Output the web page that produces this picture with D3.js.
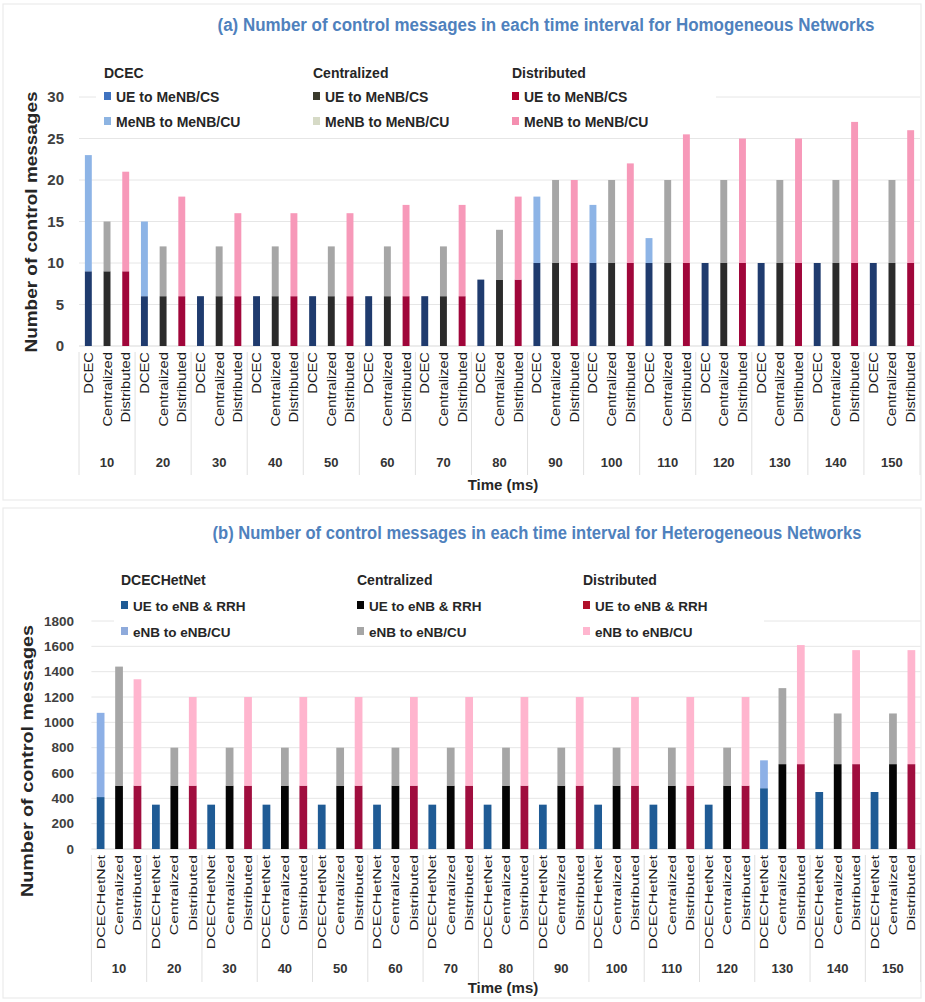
<!DOCTYPE html>
<html>
<head>
<meta charset="utf-8">
<script src="https://cdn.jsdelivr.net/npm/d3@7"></script>
<style>
  body { margin: 0; background: #fff; }
  svg { display: block; }
  text { font-family: "Liberation Sans", Arial, sans-serif; }
</style>
</head>
<body>
<svg id="chart" width="925" height="1002"></svg>
<script>
// ---- time intervals and schemes ----
const times = ["10","20","30","40","50","60","70","80","90","100","110","120","130","140","150"];
const schemesHom = ["DCEC","Centralized","Distributed"];
const schemesHet = ["DCECHetNet","Centralized","Distributed"];

// ---- (a) homogeneous networks: lower segment = UE to MeNB/CS, upper = MeNB to MeNB/CU ----
const homDcecUE   = [9,6,6,6,6,6,6,8,10,10,10,10,10,10,10];
const homDcecMeNB = [14,9,0,0,0,0,0,0,8,7,3,0,0,0,0];
const homCentUE   = [9,6,6,6,6,6,6,8,10,10,10,10,10,10,10];
const homCentMeNB = [6,6,6,6,6,6,6,6,10,10,10,10,10,10,10];
const homDistUE   = [9,6,6,6,6,6,6,8,10,10,10,10,10,10,10];
const homDistMeNB = [12,12,10,10,10,11,11,10,10,12,15.5,15,15,17,16];
const homTicks = [0,5,10,15,20,25,30];
const homLegendRows = ["UE to MeNB/CS","MeNB to MeNB/CU"];

// ---- (b) heterogeneous networks: lower = UE to eNB & RRH, upper = eNB to eNB/CU ----
const hetDcecUE  = [410,350,350,350,350,350,350,350,350,350,350,350,480,450,450];
const hetDcecENB = [665,0,0,0,0,0,0,0,0,0,0,0,220,0,0];
const hetCentUE  = [500,500,500,500,500,500,500,500,500,500,500,500,670,670,670];
const hetCentENB = [940,300,300,300,300,300,300,300,300,300,300,300,600,400,400];
const hetDistUE  = [500,500,500,500,500,500,500,500,500,500,500,500,670,670,670];
const hetDistENB = [840,700,700,700,700,700,700,700,700,700,700,700,940,900,900];
const hetTicks = [0,200,400,600,800,1000,1200,1400,1600,1800];
const hetLegendRows = ["UE to eNB & RRH","eNB to eNB/CU"];

const svg = d3.select("#chart");

function drawPanel(cfg) {
  const g = svg.append("g");

  // panel frame
  g.append("rect")
    .attr("x", cfg.frame[0]).attr("y", cfg.frame[1])
    .attr("width", cfg.frame[2]).attr("height", cfg.frame[3])
    .attr("fill", "#fff").attr("stroke", "#ebebeb").attr("stroke-width", 1.2);

  // title
  g.append("text")
    .attr("x", cfg.titleX).attr("y", cfg.titleY)
    .attr("text-anchor", "middle")
    .attr("font-size", 17.5).attr("font-weight", "bold")
    .attr("fill", "#4f81bd")
    .attr("textLength", cfg.titleLen).attr("lengthAdjust", "spacingAndGlyphs")
    .text(cfg.title);

  const x = d3.scaleBand().domain(times).range([cfg.x0, cfg.x1]).paddingInner(0).paddingOuter(0);
  const xi = d3.scaleBand().domain(cfg.schemes).range([0, x.bandwidth()])
    .paddingInner(cfg.barPad).paddingOuter(cfg.barPad / 2);
  const y = d3.scaleLinear().domain([0, cfg.yMax]).range([cfg.yBottom, cfg.yTop]);

  // gridlines
  g.append("g").selectAll("line").data(cfg.ticks.filter(t => t > 0)).join("line")
    .attr("x1", cfg.x0).attr("x2", cfg.x1)
    .attr("y1", d => y(d)).attr("y2", d => y(d))
    .attr("stroke", "#e6e6e6").attr("stroke-width", 1);

  // legend backdrop (sits over the gridlines)
  g.append("rect")
    .attr("x", cfg.legendBox[0]).attr("y", cfg.legendBox[1])
    .attr("width", cfg.legendBox[2]).attr("height", cfg.legendBox[3])
    .attr("fill", "#fff");

  // baseline
  g.append("line")
    .attr("x1", cfg.x0).attr("x2", cfg.x1)
    .attr("y1", y(0)).attr("y2", y(0))
    .attr("stroke", "#d9d9d9");

  // stacked bars
  const rows = [];
  times.forEach((t, i) => {
    cfg.schemes.forEach((s, k) => {
      const lo = cfg.series[k][0][i], hi = cfg.series[k][1][i];
      rows.push({ t, s, k, y0: 0, y1: lo, part: 0 });
      if (hi > 0) rows.push({ t, s, k, y0: lo, y1: lo + hi, part: 1 });
    });
  });
  g.append("g").selectAll("rect").data(rows).join("rect")
    .attr("x", d => x(d.t) + xi(d.s))
    .attr("width", xi.bandwidth())
    .attr("y", d => y(d.y1))
    .attr("height", d => y(d.y0) - y(d.y1))
    .attr("fill", d => cfg.barColors[d.k][d.part]);

  // y tick labels
  g.append("g").selectAll("text").data(cfg.ticks).join("text")
    .attr("x", cfg.tickX).attr("y", d => y(d))
    .attr("dy", "0.35em")
    .attr("text-anchor", "end")
    .attr("font-size", cfg.tickSize).attr("font-weight", "bold")
    .attr("fill", "#404040")
    .text(d => d);

  // y axis title
  g.append("text")
    .attr("transform", `translate(${cfg.yTitleX},${cfg.yTitleY}) rotate(-90)`)
    .attr("text-anchor", "middle")
    .attr("font-size", cfg.yTitleSize).attr("font-weight", "bold")
    .attr("fill", "#262626")
    .attr("textLength", cfg.yTitleLen).attr("lengthAdjust", "spacingAndGlyphs")
    .text("Number of control messages");

  // rotated scheme labels under each bar
  const labs = [];
  times.forEach(t => cfg.schemes.forEach(s => labs.push({ t, s })));
  g.append("g").selectAll("text").data(labs).join("text")
    .attr("transform", d => {
      const cx = x(d.t) + xi(d.s) + xi.bandwidth() / 2 + cfg.catShift;
      return `translate(${cx},${cfg.catTop}) rotate(-90) scale(${cfg.catStretch},1)`;
    })
    .attr("text-anchor", "end")
    .attr("font-size", cfg.catSize)
    .attr("fill", "#1a1a1a")
    .text(d => d.s);

  // group separators
  const seps = times.map(t => x(t)).concat([cfg.x1]);
  g.append("g").selectAll("line").data(seps).join("line")
    .attr("x1", d => d).attr("x2", d => d)
    .attr("y1", cfg.catTop).attr("y2", cfg.sepBottom)
    .attr("stroke", "#e0e0e0");

  // time labels
  g.append("g").selectAll("text").data(times).join("text")
    .attr("x", d => x(d) + x.bandwidth() / 2)
    .attr("y", cfg.timeY)
    .attr("text-anchor", "middle")
    .attr("font-size", 13).attr("font-weight", "bold")
    .attr("fill", "#333")
    .text(d => d);

  g.append("text")
    .attr("x", 503).attr("y", cfg.axisTitleY)
    .attr("text-anchor", "middle")
    .attr("font-size", 15).attr("font-weight", "bold")
    .attr("fill", "#262626")
    .text("Time (ms)");

  // legend
  cfg.legendCols.forEach((cx, k) => {
    g.append("text")
      .attr("x", cx).attr("y", cfg.legendY[0])
      .attr("font-size", 14).attr("font-weight", "bold").attr("fill", "#262626")
      .text(cfg.legendHeads[k]);
    cfg.legendRows.forEach((label, r) => {
      g.append("rect")
        .attr("x", cx).attr("y", cfg.legendY[r + 1] - 10)
        .attr("width", 7).attr("height", 8)
        .attr("fill", cfg.legendColors[k][r]);
      g.append("text")
        .attr("x", cx + 12).attr("y", cfg.legendY[r + 1])
        .attr("font-size", cfg.legendSize).attr("font-weight", "bold").attr("fill", "#262626")
        .text(label);
    });
  });
}

drawPanel({
  frame: [3, 4, 918, 496],
  title: "(a) Number of control messages in each time interval for Homogeneous Networks",
  titleX: 546, titleY: 31, titleLen: 657,
  schemes: schemesHom,
  series: [[homDcecUE, homDcecMeNB], [homCentUE, homCentMeNB], [homDistUE, homDistMeNB]],
  barColors: [["#1f3b6e", "#8db4e6"], ["#2b2b2b", "#a6a6a6"], ["#a0063a", "#f799b9"]],
  legendColors: [["#3f73c0", "#8db4e2"], ["#3a3a2c", "#d6dac6"], ["#b0022f", "#f48fb0"]],
  legendHeads: schemesHom,
  legendRows: homLegendRows,
  legendCols: [104, 313, 512],
  legendY: [78, 102, 127],
  legendSize: 14,
  legendBox: [96, 58, 620, 75],
  x0: 79, x1: 920, barPad: 0.63,
  yMax: 30, yBottom: 346, yTop: 97, ticks: homTicks,
  tickX: 64, tickSize: 15,
  yTitleX: 37, yTitleY: 222, yTitleSize: 16, yTitleLen: 261,
  catTop: 352, catShift: 4.5, catSize: 12.5, catStretch: 1.18,
  sepBottom: 475, timeY: 467, axisTitleY: 490
});

drawPanel({
  frame: [3, 508, 918, 490],
  title: "(b) Number of control messages in each time interval for Heterogeneous Networks",
  titleX: 537, titleY: 539, titleLen: 649,
  schemes: schemesHet,
  series: [[hetDcecUE, hetDcecENB], [hetCentUE, hetCentENB], [hetDistUE, hetDistENB]],
  barColors: [["#1f5b95", "#8db0e6"], ["#050505", "#a6a6a6"], ["#a00d3e", "#ffb5ce"]],
  legendColors: [["#1f5b95", "#8eaadb"], ["#050505", "#a6a6a6"], ["#b00f2a", "#ffb6cf"]],
  legendHeads: schemesHet,
  legendRows: hetLegendRows,
  legendCols: [121, 357, 583],
  legendY: [585, 611, 637],
  legendSize: 13.5,
  legendBox: [114, 565, 650, 77],
  x0: 91.4, x1: 920.6, barPad: 0.58,
  yMax: 1800, yBottom: 849, yTop: 621, ticks: hetTicks,
  tickX: 74, tickSize: 13.5,
  yTitleX: 33, yTitleY: 761, yTitleSize: 17, yTitleLen: 272,
  catTop: 855, catShift: 4, catSize: 11.5, catStretch: 1.38,
  sepBottom: 982, timeY: 973, axisTitleY: 993
});
</script>
</body>
</html>
